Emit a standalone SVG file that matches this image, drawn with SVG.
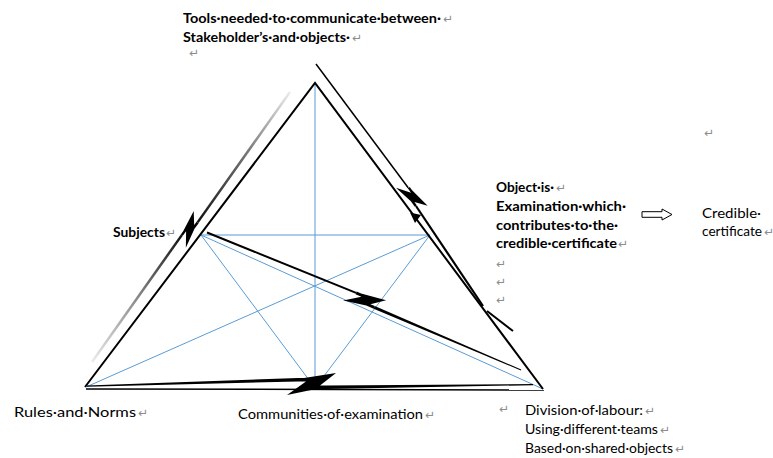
<svg xmlns="http://www.w3.org/2000/svg" width="773" height="458" viewBox="0 0 773 458">
<style>
.t{font-family:Lato,"Liberation Sans",sans-serif;font-size:14px;fill:#000}
.b{font-weight:bold}
.pm{fill:#8c8c8c;font-family:"DejaVu Sans",sans-serif;font-weight:normal;font-size:12px}
.blue{stroke:#5b9bd5;stroke-width:1;fill:none}
.edge{stroke:#000;stroke-width:2;fill:none;stroke-linejoin:miter}
.ink{fill:#000;stroke:none}
.bar{stroke:#000;fill:none}
.hollow{fill:#fff;stroke:#000;stroke-width:1}
</style>
<defs>
<path id="bolt" d="M-14,-6 L-8,-6 L24,-11 L8,1.5 L14,1.5 L14,5 L4,5 L-25,11 L-6,-2.5 L-14,-2.5 Z"/>
<linearGradient id="gLow" gradientUnits="userSpaceOnUse" x1="92" y1="362" x2="182" y2="235">
<stop offset="0" stop-color="#ececec"/><stop offset="0.5" stop-color="#8a8a8a"/><stop offset="1" stop-color="#111"/>
</linearGradient>
<linearGradient id="gUp" gradientUnits="userSpaceOnUse" x1="198" y1="222" x2="290" y2="92">
<stop offset="0" stop-color="#111"/><stop offset="0.55" stop-color="#7a7a7a"/><stop offset="1" stop-color="#ececec"/>
</linearGradient>
</defs>
<rect width="773" height="458" fill="#fff"/>

<g id="connectors">
<line class="blue" x1="315" y1="83" x2="315" y2="388"/>
<line class="blue" x1="201" y1="235" x2="430" y2="235"/>
<line class="blue" x1="201" y1="235" x2="543" y2="389"/>
<line class="blue" x1="201" y1="235" x2="315" y2="388"/>
<line class="blue" x1="430" y1="235" x2="315" y2="388"/>
<line class="blue" x1="430" y1="235" x2="86" y2="387"/>
<polyline class="edge" points="85,387 315,83 543,389"/>
<line class="bar" stroke-width="1.5" x1="86" y1="389" x2="544" y2="390"/>
<polygon class="ink" points="87,385.6 298,378 298,381.5 87,386.8"/>
<use href="#bolt" class="ink" transform="translate(312,384)"/>
<polygon class="ink" points="326,385.5 533,384 533,385.2 326,389"/>
<line class="bar" stroke-width="2" x1="207" y1="232.5" x2="356.1" y2="292.9"/>
<use href="#bolt" class="ink" transform="translate(365,300.5) rotate(23.8) scale(0.8)"/>
<polygon class="ink" points="374.76,306.12 521.2,369.54 520.8,370.46 373.64,308.68"/>
<line class="bar" stroke-width="1.5" x1="316" y1="64" x2="408.2" y2="187.8"/>
<use href="#bolt" class="ink" transform="translate(412,197) rotate(54) scale(0.68)"/>
<line class="bar" stroke-width="2.2" x1="416" y1="206" x2="483" y2="306"/>
<line class="bar" stroke-width="2" x1="487" y1="311" x2="513" y2="331"/>
<polygon class="ink" points="410,212.5 421,215 415,223"/>
<line stroke="url(#gLow)" stroke-width="2.5" x1="92" y1="362" x2="181.8" y2="235.1"/>
<line stroke="url(#gUp)" stroke-width="2.5" x1="197.6" y1="222.4" x2="290" y2="92"/>
<use href="#bolt" class="ink" transform="translate(190,229) rotate(-53.75) scale(0.7)"/>
<polygon class="hollow" points="642,211.7 662,211.7 662,209 672,214.5 662,220 662,217.3 642,217.3"/>
</g>

<g id="node-tools">
<text class="t b" x="183" y="23" textLength="258" lengthAdjust="spacingAndGlyphs">Tools·needed·to·communicate·between·</text>
<text class="pm" x="443" y="23">↵</text>
<text class="t b" x="183" y="42" textLength="167" lengthAdjust="spacingAndGlyphs">Stakeholder’s·and·objects·</text>
<text class="pm" x="352" y="42">↵</text>
<text class="pm" x="189" y="57">↵</text>
</g>

<g id="node-subjects">
<text class="t b" x="113" y="237" textLength="52" lengthAdjust="spacingAndGlyphs">Subjects</text>
<text class="pm" x="166" y="237">↵</text>
</g>

<g id="node-object">
<text class="t b" x="496" y="192" textLength="58" lengthAdjust="spacingAndGlyphs">Object·is·</text>
<text class="pm" x="556" y="192">↵</text>
<text class="t b" x="496" y="211" textLength="130" lengthAdjust="spacingAndGlyphs">Examination·which·</text>
<text class="t b" x="496" y="229.5" textLength="122" lengthAdjust="spacingAndGlyphs">contributes·to·the·</text>
<text class="t b" x="496" y="248" textLength="121" lengthAdjust="spacingAndGlyphs">credible·certificate</text>
<text class="pm" x="618" y="248">↵</text>
<text class="pm" x="496" y="268">↵</text>
<text class="pm" x="496" y="286">↵</text>
<text class="pm" x="496" y="304">↵</text>
</g>

<g id="node-outcome">
<text class="t" x="702" y="218" textLength="59" lengthAdjust="spacingAndGlyphs">Credible·</text>
<text class="t" x="702" y="236" textLength="60" lengthAdjust="spacingAndGlyphs">certificate</text>
<text class="pm" x="764" y="236">↵</text>
<text class="pm" x="704" y="137">↵</text>
</g>

<g id="node-rules">
<text class="t" x="14" y="417" textLength="122" lengthAdjust="spacingAndGlyphs">Rules·and·Norms</text>
<text class="pm" x="138" y="417">↵</text>
</g>

<g id="node-community">
<text class="t" x="238" y="419" textLength="185" lengthAdjust="spacingAndGlyphs">Communities·of·examination</text>
<text class="pm" x="425" y="419">↵</text>
<text class="pm" x="499" y="413">↵</text>
</g>

<g id="node-division">
<text class="t" x="525" y="415" textLength="118" lengthAdjust="spacingAndGlyphs">Division·of·labour:</text>
<text class="pm" x="645" y="415">↵</text>
<text class="t" x="525" y="434" textLength="133" lengthAdjust="spacingAndGlyphs">Using·different·teams</text>
<text class="pm" x="660" y="434">↵</text>
<text class="t" x="525" y="453" textLength="148" lengthAdjust="spacingAndGlyphs">Based·on·shared·objects</text>
<text class="pm" x="675" y="453">↵</text>
</g>
</svg>
